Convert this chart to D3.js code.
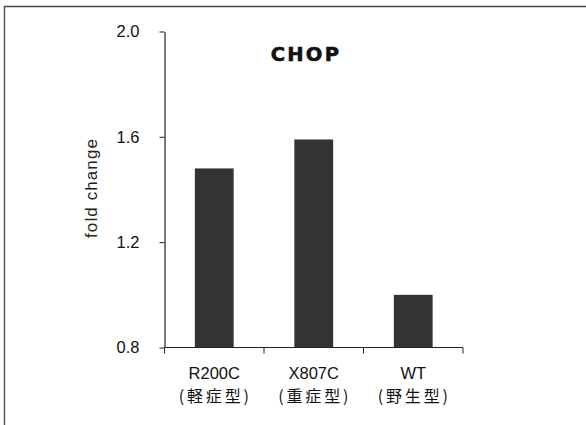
<!DOCTYPE html>
<html><head><meta charset="utf-8">
<script src="https://cdn.jsdelivr.net/npm/d3@7"></script>
<style>body{margin:0;background:#fff;}svg{display:block;}</style>
</head><body>
<script>
const categories = ["R200C", "X807C", "WT"];
const subLabels = ["(軽症型)", "(重症型)", "(野生型)"];
const values = [1.48, 1.59, 1.0];
const yTicks = [0.8, 1.2, 1.6, 2.0];
const title = "CHOP";
const yLabel = "fold change";

const W = 586, H = 425;
const svg = d3.select("body").append("svg").attr("width", W).attr("height", H);

// frame (top and left lines)
svg.append("line").attr("x1",4).attr("x2",W).attr("y1",6.5).attr("y2",6.5).attr("stroke","#444").attr("stroke-width",1.5);
svg.append("line").attr("x1",4.5).attr("x2",4.5).attr("y1",6).attr("y2",H).attr("stroke","#555").attr("stroke-width",1.5);

const x0 = 164.5, x1 = 463, yTop = 31.5, yBot = 347.5;
const x = d3.scaleBand().domain(categories).range([x0, x1]).paddingInner(0.61).paddingOuter(0.305);
const y = d3.scaleLinear().domain([0.8, 2.0]).range([yBot, yTop]);

// bars
svg.selectAll("rect.bar").data(values).enter().append("rect")
  .attr("class","bar")
  .attr("x",(d,i)=>x(categories[i]))
  .attr("width",x.bandwidth())
  .attr("y",d=>y(d))
  .attr("height",d=>y(0.8)-y(d))
  .attr("fill","#333");

const font = "'Liberation Sans', Arial, sans-serif";

// y axis
const yAxis = svg.append("g").attr("transform",`translate(${x0},0)`)
  .call(d3.axisLeft(y).tickValues(yTicks).tickFormat(d3.format(".1f")).tickSize(5).tickSizeOuter(0));
yAxis.select(".domain").attr("stroke","#222").attr("stroke-width",1.2);
yAxis.selectAll(".tick line").attr("stroke","#222");
yAxis.selectAll(".tick text").attr("font-family",font).attr("font-size",16.5).attr("fill","#111").attr("x",-25);

// x axis
const xAxis = svg.append("g").attr("transform",`translate(0,${yBot})`);
xAxis.append("line").attr("x1",x0).attr("x2",x1).attr("y1",0).attr("y2",0).attr("stroke","#222").attr("stroke-width",1.2);
const step = x.step();
const bounds = d3.range(categories.length + 1).map(i => x0 + i * step);
xAxis.selectAll("line.tk").data(bounds).enter().append("line")
  .attr("class","tk").attr("x1",d=>d).attr("x2",d=>d).attr("y1",0).attr("y2",6).attr("stroke","#222");

// x labels
categories.forEach((c,i)=>{
  const cx = x(c) + x.bandwidth()/2;
  svg.append("text").attr("x",cx).attr("y",379).attr("text-anchor","middle")
    .attr("font-family",font).attr("font-size",16.5).attr("fill","#111").text(c);
  svg.append("text").attr("x",cx + 1).attr("y",402).attr("text-anchor","middle")
    .attr("font-family","'Noto Sans CJK JP', sans-serif").attr("font-size",16)
    .attr("letter-spacing",2.8).attr("fill","#111").text(subLabels[i]);
});

// title
svg.append("text").attr("x",306).attr("y",60.5).attr("text-anchor","middle")
  .attr("font-family","'DejaVu Sans', sans-serif").attr("font-weight","bold").attr("font-size",19.5)
  .attr("letter-spacing",2.2).attr("fill","#111").attr("stroke","#111").attr("stroke-width",0.6).text(title);

// y label
svg.append("text").attr("transform","translate(97,188) rotate(-90)").attr("text-anchor","middle")
  .attr("font-family",font).attr("font-size",17).attr("letter-spacing",1.1).attr("fill","#222").text(yLabel);
</script>
</body></html>
